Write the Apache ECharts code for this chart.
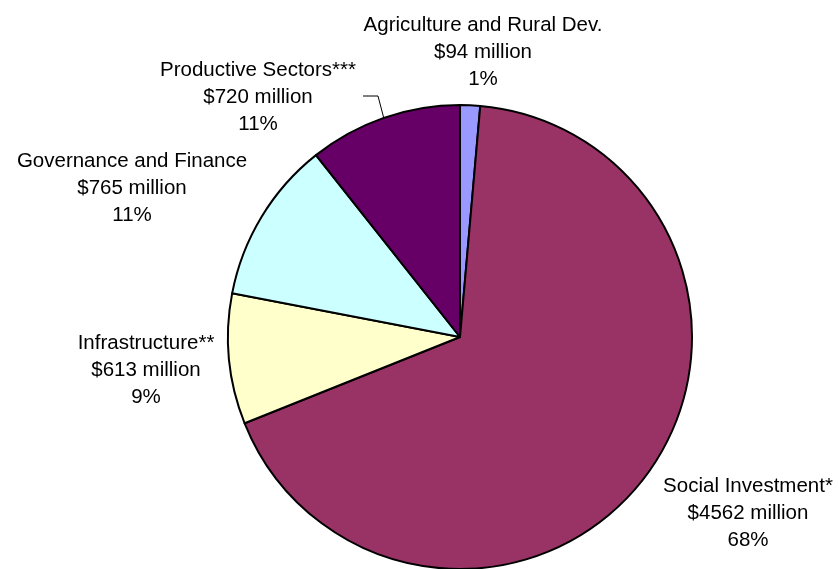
<!DOCTYPE html>
<html>
<head>
<meta charset="utf-8">
<script src="https://cdn.jsdelivr.net/npm/echarts@6/dist/echarts.min.js"></script>
<style>html,body{margin:0;padding:0;background:#fff;}#c{width:839px;height:569px;}</style>
</head>
<body>
<div id="c"></div>
<script>
const categories = ['Agriculture and Rural Dev.', 'Social Investment*', 'Infrastructure**', 'Governance and Finance', 'Productive Sectors***'];
const values = [94, 4562, 613, 765, 720];
const colors = ['#9999FF', '#993366', '#FFFFCC', '#CCFFFF', '#660066'];
// label block centres (px)
const labelPos = [[483, 52], [748, 513], [146, 370], [132, 188], [258, 97]];
const leaderLine = [false, false, false, false, true];

const total = values.reduce((a, b) => a + b, 0);
const chart = echarts.init(document.getElementById('c'), null, {renderer: 'canvas'});
chart.setOption({
  animation: false,
  series: [{
    type: 'pie',
    center: [460, 337],
    radius: 232,
    startAngle: 90,
    clockwise: true,
    silent: true,
    itemStyle: {borderColor: '#000', borderWidth: 2},
    label: {
      show: true,
      color: '#000',
      fontFamily: 'Liberation Sans, Arial, sans-serif',
      fontSize: 20.5,
      lineHeight: 27,
      align: 'center',
      overflow: 'none',
      formatter: p => p.name + '\n$' + p.value + ' million\n' + Math.round(p.value / total * 100) + '%'
    },
    labelLine: {show: false, lineStyle: {color: '#000', width: 1}},
    labelLayout: function (params) {
      const i = params.dataIndex;
      const out = {x: labelPos[i][0], y: labelPos[i][1], align: 'center', verticalAlign: 'middle', width: 300};
      if (leaderLine[i] && params.labelLinePoints) {
        const e = params.labelLinePoints[0];
        out.labelLinePoints = [[e[0], e[1]], [labelPos[i][0] + 120, labelPos[i][1] - 1], [labelPos[i][0] + 105, labelPos[i][1] - 1]];
      }
      return out;
    },
    data: categories.map((n, i) => ({
      name: n,
      value: values[i],
      itemStyle: {color: colors[i]},
      labelLine: {show: leaderLine[i]}
    }))
  }]
});
</script>
</body>
</html>
